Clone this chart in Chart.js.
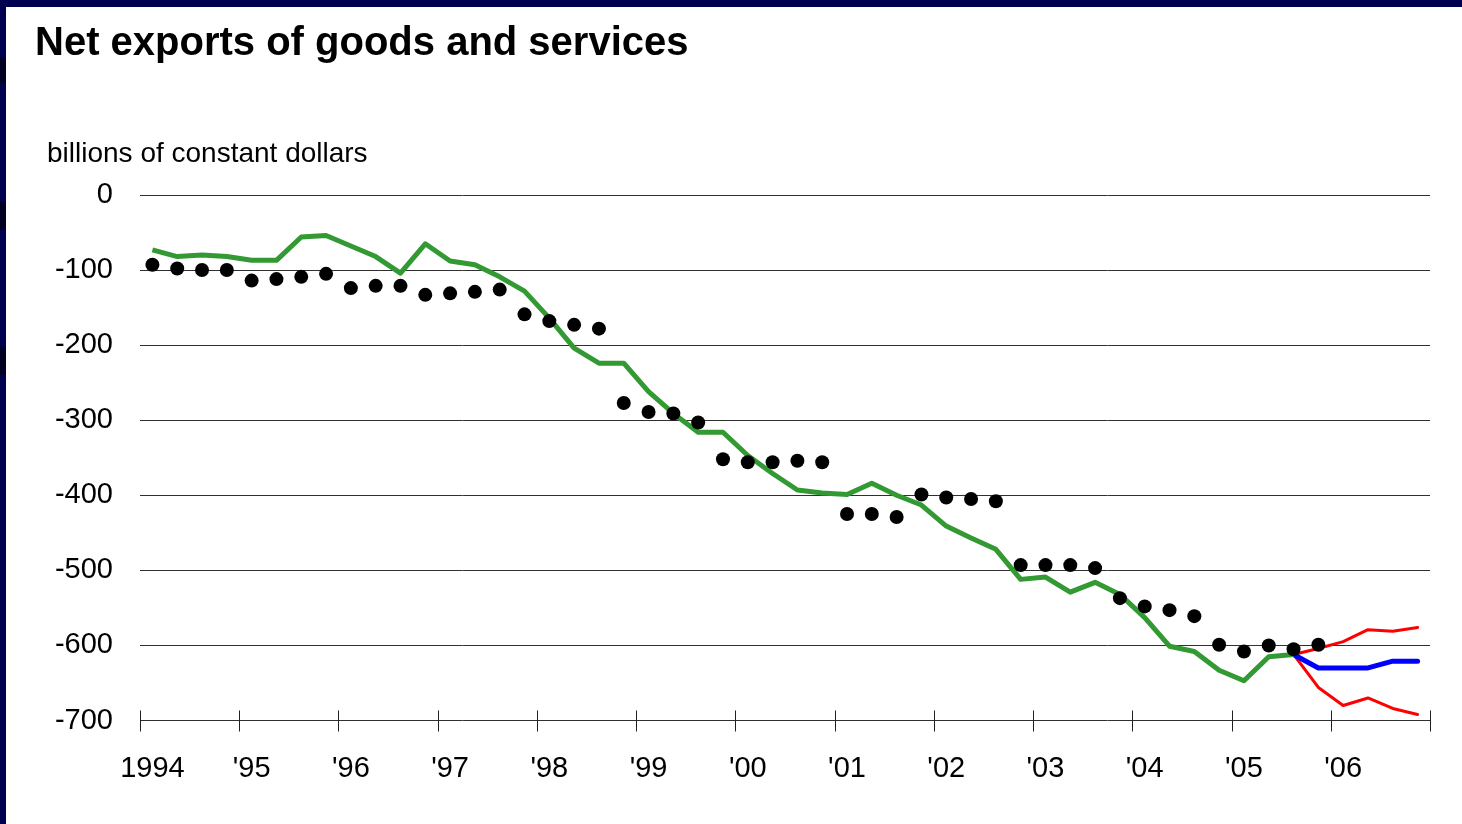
<!DOCTYPE html>
<html>
<head>
    <title>Net exports of goods and services</title>
    <script src="https://cdn.jsdelivr.net/npm/chart.js"></script>
    <style>
        html, body { margin: 0; padding: 0; background: #fff; overflow: hidden; }
        body { width: 1462px; height: 824px; position: relative; font-family: 'Liberation Sans', Arial, sans-serif; }
        .edge { position: absolute; background: #000050; }
        .dark { position: absolute; left: 0; width: 6px; background: #000022; }
        #title { position: absolute; left: 35px; top: 21px; font-size: 40px; font-weight: bold; line-height: 1; color: #000; white-space: nowrap; }
        #unit { position: absolute; left: 47px; top: 139px; font-size: 28px; line-height: 1; color: #000; white-space: nowrap; }
        #wrap { position: absolute; left: 0; top: 0; width: 1462px; height: 824px; }
    </style>
</head>
<body>
    <div id="wrap"><canvas id="netExports"></canvas></div>
    <div class="edge" style="left:0;top:0;width:1462px;height:7px"></div>
    <div class="edge" style="left:0;top:0;width:6px;height:824px"></div>
    <div class="dark" style="top:57px;height:26px"></div>
    <div class="dark" style="top:202px;height:28px"></div>
    <div class="dark" style="top:347px;height:28px"></div>
    <div id="title">Net exports of goods and services</div>
    <div id="unit">billions of constant dollars</div>
    <script>
        // quarters 1994Q1 .. 2006Q4
        const years = [1994, 1995, 1996, 1997, 1998, 1999, 2000, 2001, 2002, 2003, 2004, 2005, 2006];
        const quarters = [];
        years.forEach(y => { for (let q = 1; q <= 4; q++) quarters.push(y + ' Q' + q); });
        const yearLabels = ['1994', "'95", "'96", "'97", "'98", "'99", "'00", "'01", "'02", "'03", "'04", "'05", "'06"];

        // actual (dots), 1994Q1 .. 2005Q4
        const actual = [
            -93, -98, -100, -100, -114, -112, -109, -105,
            -124, -121, -121, -133, -131, -129, -126, -159,
            -168, -173, -178, -277, -289, -291, -303, -352,
            -356, -356, -354, -356, -425, -425, -429, -399,
            -403, -405, -408, -493, -493, -493, -497, -537,
            -548, -553, -561, -599, -608, -600, -605, -599
        ];
        // model simulation (green), 1994Q1 .. 2005Q3
        const model = [
            -73, -82, -80, -82, -87, -87, -56, -54,
            -68, -82, -104, -65, -88, -93, -109, -128,
            -164, -204, -224, -224, -262, -291, -316, -316,
            -347, -371, -393, -397, -399, -384, -400, -413,
            -441, -457, -472, -512, -509, -529, -516, -532,
            -563, -601, -608, -633, -647, -615, -612
        ];
        // forecast 2005Q3 .. 2006Q4
        const forecast = [-612, -630, -630, -630, -621, -621];
        const upperBand = [-612, -604, -595, -579, -581, -576];
        const lowerBand = [-612, -656, -680, -670, -684, -692];

        const forecastStart = quarters.indexOf('2005 Q3');
        const pad = arr => Array(forecastStart).fill(null).concat(arr);

        // tick marks crossing the axis at every year boundary
        const yearTicks = {
            id: 'yearTicks',
            afterDraw(chart) {
                const x = chart.scales.x, y = chart.scales.y;
                const ctx = chart.ctx;
                const half = (x.getPixelForValue(1) - x.getPixelForValue(0)) / 2;
                const base = y.getPixelForValue(-700);
                ctx.save();
                ctx.strokeStyle = '#202020';
                ctx.lineWidth = 1;
                for (let i = 0; i <= quarters.length; i += 4) {
                    const px = Math.round(x.getPixelForValue(Math.min(i, quarters.length - 1)) + (i === quarters.length ? half : -half)) + 0.5;
                    ctx.beginPath();
                    ctx.moveTo(px, base - 10);
                    ctx.lineTo(px, base + 11);
                    ctx.stroke();
                }
                ctx.restore();
            }
        };

        Chart.defaults.font.family = "'Liberation Sans', Arial, sans-serif";
        Chart.defaults.color = '#000';

        const ctx = document.getElementById('netExports').getContext('2d');
        new Chart(ctx, {
            type: 'line',
            data: {
                labels: quarters,
                datasets: [
                    {
                        label: 'Actual',
                        data: actual,
                        showLine: false,
                        pointRadius: 7,
                        pointHoverRadius: 7,
                        pointBackgroundColor: '#000',
                        pointBorderWidth: 0,
                        borderColor: '#000'
                    },
                    {
                        label: 'Model',
                        data: model,
                        borderColor: '#339933',
                        borderWidth: 5,
                        pointRadius: 0,
                        borderJoinStyle: 'round'
                    },
                    {
                        label: 'Forecast',
                        data: pad(forecast),
                        borderColor: '#0000ff',
                        borderWidth: 5,
                        pointRadius: 0,
                        borderJoinStyle: 'round',
                        borderCapStyle: 'round'
                    },
                    {
                        label: 'Upper',
                        data: pad(upperBand),
                        borderColor: '#ff0000',
                        borderWidth: 3,
                        pointRadius: 0,
                        borderJoinStyle: 'round',
                        borderCapStyle: 'round'
                    },
                    {
                        label: 'Lower',
                        data: pad(lowerBand),
                        borderColor: '#ff0000',
                        borderWidth: 3,
                        pointRadius: 0,
                        borderJoinStyle: 'round',
                        borderCapStyle: 'round'
                    }
                ]
            },
            options: {
                responsive: true,
                maintainAspectRatio: false,
                animation: false,
                layout: { padding: { left: 0, right: 32, top: 195, bottom: 0 } },
                plugins: {
                    legend: { display: false },
                    title: { display: false },
                    tooltip: { enabled: false }
                },
                scales: {
                    x: {
                        offset: true,
                        grid: { display: false, drawTicks: false },
                        border: { display: false },
                        ticks: {
                            autoSkip: false,
                            maxRotation: 0,
                            padding: 31,
                            font: { size: 29 },
                            callback: (v, i) => i % 4 === 0 ? yearLabels[i / 4] : ''
                        },
                        afterFit: s => { s.height = 103.5; }
                    },
                    y: {
                        min: -700,
                        max: 0,
                        grid: { color: '#303030', lineWidth: 1, drawTicks: false },
                        border: { display: false },
                        ticks: { stepSize: 100, padding: 27, font: { size: 29 } },
                        afterFit: s => { s.width = 140; }
                    }
                }
            },
            plugins: [yearTicks]
        });
    </script>
</body>
</html>
